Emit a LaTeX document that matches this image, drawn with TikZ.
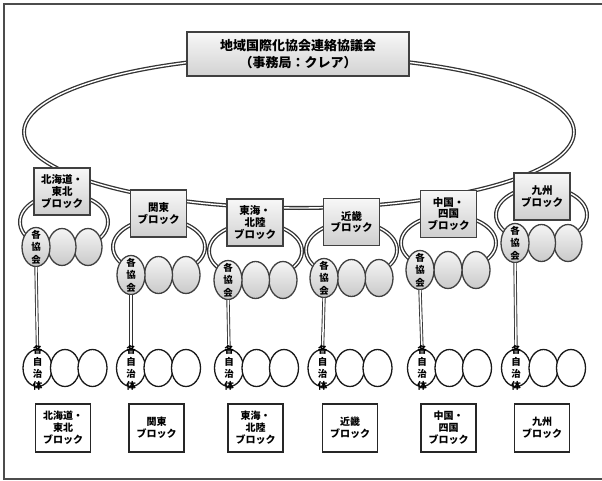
\documentclass[tikz,border=0pt]{standalone}
\usepackage{fontspec}
\setmainfont{Noto Sans CJK JP}
\usetikzlibrary{calc,shapes.geometric}
\pgfdeclarelayer{background}
\pgfsetlayers{background,main}
\begin{document}
\begin{tikzpicture}[x=1pt,y=-1pt,
  dbl/.style={draw=black!80,line width=1.3pt,double=white,double distance=1.4pt},
  vline/.style={draw=black!80,line width=0.9pt,double=white,double distance=1.5pt},
  ray/.style={draw=gray!70,line width=0.5pt},
  titlebox/.style={draw=black!75,line width=1.8pt,shading=axis,top color=gray!6,bottom color=gray!35,
    minimum width=222pt,minimum height=44pt,inner sep=0pt,align=center,
    font=\bfseries\fontsize{13}{17}\selectfont},
  blk/.style={draw=black!75,line width=1.7pt,shading=axis,top color=gray!6,bottom color=gray!38,
    minimum width=56pt,minimum height=47pt,inner sep=0pt,align=center,
    font=\bfseries\fontsize{10.5}{11.8}\selectfont},
  bot/.style={draw=black!85,line width=1.8pt,fill=white,
    minimum width=55pt,minimum height=48pt,inner sep=0pt,align=center,
    font=\bfseries\fontsize{10}{11.8}\selectfont},
  ringshape/.style={ellipse,dbl,minimum width=90pt,minimum height=56pt,inner sep=0pt},
  assoc/.style={ellipse,draw=black!75,line width=1.3pt,shading=axis,top color=gray!8,bottom color=gray!42,
    minimum width=28pt,minimum height=37pt,inner sep=0pt},
  muni/.style={ellipse,draw=black!90,line width=1.3pt,fill=white,
    minimum width=29pt,minimum height=37pt,inner sep=0pt},
  vtext/.style={inner sep=0pt,align=center,font=\bfseries\fontsize{9.5}{12.5}\selectfont},
  frameline/.style={draw=black!70,line width=1.4pt}
]
\useasboundingbox (0,0) rectangle (602,481);
\fill[white] (0,0) rectangle (602,481);
\draw[frameline] (610,4) -- (4,4) -- (4,479) -- (610,479);

% big loop
\node[ellipse,dbl,minimum width=550pt,minimum height=152pt,inner sep=0pt] (loop) at (299,132) {};

% title
\node[titlebox] (title) at (298,54) {地域国際化協会連絡協議会\\（事務局：クレア）};

\foreach \i/\bx/\by/\rgx/\rgy/\rw/\cx/\sp/\cy/\mx/\bbx/\off/\lab in {
  1/62/191.5/64/222/88/36/26/247/37.5/63/8/{北海道・\\東北\\ブロック},
  2/158.5/213.5/159/247/92/131/27.5/275/131/156.5/4.5/{関東\\ブロック},
  3/255/222.5/255.5/251/93/228/27.5/280/229/255.5/2/{東海・\\北陸\\ブロック},
  4/351.5/222/351.5/250/91/324/27.5/278/322.5/350/-1.5/{近畿\\ブロック},
  5/448.5/214/448.5/243/95/420/28/270/422/448.5/-3.5/{中国・\\四国\\ブロック},
  6/542/196.5/541.5/215/91/515/26.5/243/516/542/-12/{九州\\ブロック}} {
  % ring behind block box and association circles
  \node[ringshape,minimum width=\rw pt] (r\i) at (\rgx,\rgy) {};
  % association circles
  \node[assoc] (a\i c) at ({\cx+2*\sp},\cy) {};
  \node[assoc] (a\i b) at ({\cx+\sp},\cy) {};
  \node[assoc,minimum height=39pt] (a\i a) at (\cx,\cy) {};
  \node[vtext] (ta\i) at (\cx,\cy) {各\\協\\会};
  % block box
  \node[blk] (b\i) at (\bx,\by) {\lab};
  % municipality circles
  \node[muni] (m\i a) at (\mx,368) {};
  \node[muni] (m\i b) at ({\mx+27.5},368) {};
  \node[muni] (m\i c) at ({\mx+55},368) {};
  \draw[vline] (a\i a.south) -- (m\i a.north);
  \node[vtext,font=\bfseries\fontsize{9.5}{12}\selectfont] (tm\i) at (\mx,368) {各\\自\\治\\体};
  % bottom block box
  \node[bot] (k\i) at (\bbx,428) {\lab};
  % ray from secretariat
  \begin{pgfonlayer}{background}
    \draw[ray] (title.south) -- ($(b\i.north)+(\off,0)$);
  \end{pgfonlayer}
}
\end{tikzpicture}
\end{document}
